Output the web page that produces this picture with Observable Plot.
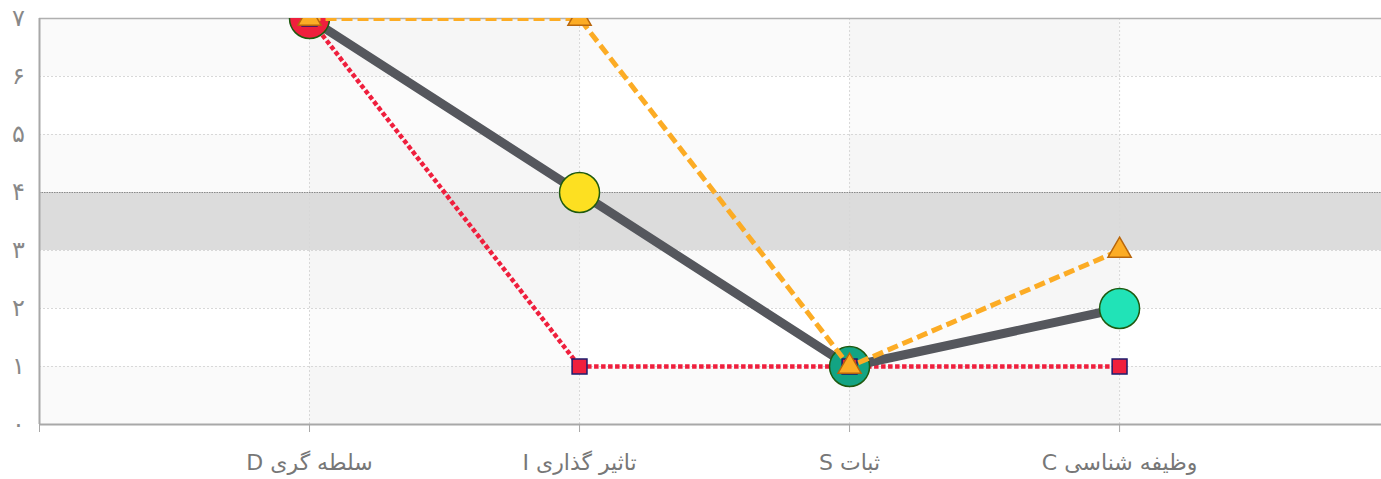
<!DOCTYPE html>
<html>
<head>
<meta charset="utf-8">
<script src="https://cdn.jsdelivr.net/npm/d3@7"></script>
<script src="https://cdn.jsdelivr.net/npm/@observablehq/plot@0.6"></script>
<style>
  html, body { margin: 0; padding: 0; background: #ffffff; }
  #chart svg { display: block; }
</style>
</head>
<body>
<div id="chart"></div>
<script>
// ---- data ----
const categories = ["سلطه گری D", "تاثیر گذاری I", "ثبات S", "وظیفه شناسی C"];
const categoryPos = [1, 2, 3, 4];
const seriesMain = [7, 4, 1, 2];          // grey line with circles
const seriesOrange = [7, 7, 1, 3];        // orange dashed with triangles
const seriesRed = [7, 1, 1, 1];           // red dotted with squares
const mainDotColors = ["#ef1f3d", "#fde021", "#13a483", "#21e3b7"];
const yTicks = [0, 1, 2, 3, 4, 5, 6, 7];
const yTickLabels = ["۰", "۱", "۲", "۳", "۴", "۵", "۶", "۷"];
const shadedRows = [0, 2, 4, 6];          // lower bound of light row bands
const highlightRow = [3, 4];              // grey band
const shadedCols = [[1, 2], [3, 4]];      // column stripes
const gridY = [1, 2, 3, 5, 6];

const toRows = (vals) => categoryPos.map((x, i) => ({x, y: vals[i], i}));
const main = toRows(seriesMain);
const orange = toRows(seriesOrange);
const red = toRows(seriesRed);

const chart = Plot.plot({
  width: 1381,
  height: 479,
  marginLeft: 39,
  marginRight: 0,
  marginTop: 18,
  marginBottom: 55,
  x: {domain: [0, 4.97]},
  y: {domain: [0, 7]},
  style: {background: "#ffffff", fontFamily: "'DejaVu Sans', sans-serif"},
  marks: [
    // background bands
    Plot.rectY(shadedRows, {x1: 0, x2: 4.97, y1: d => d, y2: d => d + 1, fill: "#fafafa"}),
    Plot.rectY(shadedCols, {x1: d => d[0], x2: d => d[1], y1: 0, y2: 7, fill: "#000", fillOpacity: 0.017}),
    Plot.rectY([highlightRow], {x1: 0, x2: 4.97, y1: d => d[0], y2: d => d[1], fill: "#dcdcdc"}),
    // grid
    Plot.ruleY(gridY, {stroke: "#d8d8d8", strokeDasharray: "2,2", strokeWidth: 1}),
    Plot.ruleX(categoryPos, {stroke: "#d8d8d8", strokeDasharray: "2,2", strokeWidth: 1}),
    Plot.ruleY([highlightRow[1]], {stroke: "#8a8a8a", strokeDasharray: "1.5,1", strokeWidth: 1.2}),
    // frame lines
    Plot.ruleY([7], {stroke: "#b0b0b0", strokeWidth: 1.5}),
    Plot.ruleY([0], {stroke: "#a8a8a8", strokeWidth: 2}),
    Plot.ruleX([0], {stroke: "#a8a8a8", strokeWidth: 2, y1: 0, y2: 7}),
    // axes
    Plot.axisX({
      ticks: [0, ...categoryPos],
      tickSize: 8,
      tickPadding: 22,
      tickFormat: d => d === 0 ? "" : categories[categoryPos.indexOf(d)],
      stroke: "#a8a8a8",
      fill: "#777777",
      fontSize: 22,
      label: null
    }),
    Plot.axisY({
      ticks: yTicks,
      tickSize: 0,
      tickPadding: 21,
      textAnchor: "middle",
      tickFormat: d => yTickLabels[yTicks.indexOf(d)],
      fill: "#888888",
      fontSize: 24,
      label: null
    }),
    // red dotted series
    Plot.line(red, {x: "x", y: "y", stroke: "#ef1f3d", strokeWidth: 4.5, strokeDasharray: "4.5,2.5", strokeLinecap: "butt", clip: true}),
    // main grey series
    Plot.line(main, {x: "x", y: "y", stroke: "#55575d", strokeWidth: 9, clip: true}),
    Plot.dot(main, {x: "x", y: "y", r: 20, fill: d => mainDotColors[d.i], stroke: "#1f5a10", strokeWidth: 1.5, clip: true}),
    Plot.dot(red, {x: "x", y: "y", symbol: "square", r: 8.4, fill: "#ef1f3d", stroke: "#1c1a6b", strokeWidth: 1.5, clip: true}),
    // orange dashed series
    Plot.line(orange, {x: "x", y: "y", stroke: "#fcac25", strokeWidth: 5, strokeDasharray: "11,5", strokeLinecap: "butt", clip: true}),
    Plot.dot(orange, {x: "x", y: "y", symbol: "triangle", r: 8.6, fill: "#fcac25", stroke: "#b8660c", strokeWidth: 1.5, clip: true})
  ]
});

document.getElementById("chart").appendChild(chart);
// right-to-left rendering for the Persian category labels
d3.select(chart).selectAll('g[aria-label="x-axis tick label"] text').attr("direction", "rtl");
</script>
</body>
</html>
